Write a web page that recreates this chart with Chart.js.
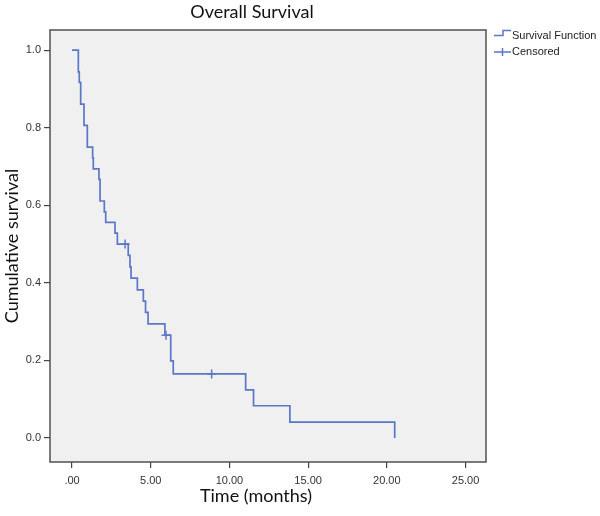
<!DOCTYPE html>
<html>
<head>
<meta charset="utf-8">
<title>Overall Survival</title>
<script src="https://cdn.jsdelivr.net/npm/chart.js@4"></script>
<style>
    html, body { margin: 0; padding: 0; background: #ffffff; }
    #wrap { width: 600px; height: 516px; }
</style>
</head>
<body>
<div id="wrap"><canvas id="survivalChart" width="600" height="516"></canvas></div>
<script>
// Kaplan-Meier steps (time in months, cumulative survival after the drop)
const times = [0, 0.40, 0.46, 0.55, 0.76, 0.97, 1.31, 1.35, 1.71, 1.78, 2.05, 2.14, 2.73, 2.88,
    3.57, 3.68, 3.75, 4.15, 4.53, 4.67, 4.83, 5.90, 6.27, 6.43, 11.03, 11.53, 13.84, 20.50];
const survival = [1.0, 0.944, 0.917, 0.861, 0.806, 0.750, 0.722, 0.694, 0.667, 0.611, 0.583, 0.556, 0.528, 0.500,
    0.471, 0.441, 0.412, 0.382, 0.353, 0.324, 0.294, 0.265, 0.199, 0.165, 0.124, 0.083, 0.041, 0.0];

// censored cases
const censorTimes = [3.37, 5.97, 8.87];
const censorSurvival = [0.500, 0.265, 0.165];

// axis ticks
const xTicks = [0, 5, 10, 15, 20, 25];
const xTickLabels = ['.00', '5.00', '10.00', '15.00', '20.00', '25.00'];
const yTicks = [0, 0.2, 0.4, 0.6, 0.8, 1.0];
const yTickLabels = ['0.0', '0.2', '0.4', '0.6', '0.8', '1.0'];

const blue = '#5b77c9';
const titleFont = 'Lato, "Open Sans", sans-serif';
const tickFont = '"Liberation Sans", Arial, sans-serif';

// grey plot area, frame, chart title, x title and the legend on the right
const spssLook = {
    id: 'spssLook',
    beforeDraw(chart) {
        const { ctx, chartArea: a } = chart;
        ctx.save();
        ctx.fillStyle = '#f0f0f0';
        ctx.fillRect(a.left, a.top, a.right - a.left, a.bottom - a.top);
        ctx.restore();
    },
    afterDraw(chart) {
        const { ctx, chartArea: a } = chart;
        ctx.save();
        ctx.strokeStyle = '#505050';
        ctx.lineWidth = 1.5;
        ctx.strokeRect(a.left, a.top, a.right - a.left, a.bottom - a.top);

        ctx.fillStyle = '#111';
        ctx.textAlign = 'center';
        ctx.textBaseline = 'middle';
        ctx.font = '18px ' + titleFont;
        ctx.fillText('Overall Survival', 252, 12);
        ctx.fillText('Time (months)', 256, 496);

        // legend
        ctx.strokeStyle = blue;
        ctx.lineWidth = 1.5;
        ctx.beginPath();
        ctx.moveTo(494, 35.5);
        ctx.lineTo(503, 35.5);
        ctx.lineTo(503, 30.5);
        ctx.lineTo(511, 30.5);
        ctx.moveTo(494, 52);
        ctx.lineTo(511, 52);
        ctx.moveTo(502.5, 48);
        ctx.lineTo(502.5, 56);
        ctx.stroke();

        ctx.fillStyle = '#222';
        ctx.textAlign = 'left';
        ctx.font = '11px ' + tickFont;
        ctx.fillText('Survival Function', 512, 36);
        ctx.fillText('Censored', 512, 52);
        ctx.restore();
    }
};

const ctx = document.getElementById('survivalChart').getContext('2d');
new Chart(ctx, {
    type: 'scatter',
    data: {
        datasets: [
            {
                label: 'Survival Function',
                type: 'line',
                data: times.map((t, i) => ({ x: t, y: survival[i] })),
                stepped: true,
                borderColor: blue,
                borderWidth: 1.7,
                pointRadius: 0,
                fill: false
            },
            {
                label: 'Censored',
                data: censorTimes.map((t, i) => ({ x: t, y: censorSurvival[i] })),
                pointStyle: 'cross',
                pointRadius: 4.5,
                borderColor: blue,
                borderWidth: 1.5,
                backgroundColor: blue
            }
        ]
    },
    options: {
        responsive: false,
        animation: false,
        devicePixelRatio: 1,
        layout: { padding: { top: 30, right: 114, left: 0, bottom: 0 } },
        plugins: {
            legend: { display: false },
            title: { display: false },
            tooltip: { enabled: false }
        },
        scales: {
            x: {
                type: 'linear',
                min: -1.4,
                max: 26.3,
                afterBuildTicks: scale => { scale.ticks = xTicks.map(v => ({ value: v })); },
                afterFit: scale => { scale.height = 54; },
                ticks: {
                    callback: (v) => xTickLabels[xTicks.indexOf(v)],
                    font: { family: tickFont, size: 11 },
                    color: '#333',
                    padding: 6,
                    maxRotation: 0
                },
                grid: { drawOnChartArea: false, drawTicks: true, tickLength: 6, color: '#444', lineWidth: 1.2 },
                border: { display: false }
            },
            y: {
                type: 'linear',
                min: -0.062,
                max: 1.052,
                afterBuildTicks: scale => { scale.ticks = yTicks.map(v => ({ value: v })); },
                afterFit: scale => { scale.width = 50; },
                ticks: {
                    callback: (v) => yTickLabels[yTicks.indexOf(v)],
                    font: { family: tickFont, size: 11 },
                    color: '#333',
                    padding: 3
                },
                title: {
                    display: true,
                    text: 'Cumulative survival',
                    font: { family: titleFont, size: 18 },
                    color: '#111',
                    padding: { top: 1, bottom: 0 }
                },
                grid: { drawOnChartArea: false, drawTicks: true, tickLength: 6, color: '#444', lineWidth: 1.2 },
                border: { display: false }
            }
        }
    },
    plugins: [spssLook]
});
</script>
</body>
</html>
